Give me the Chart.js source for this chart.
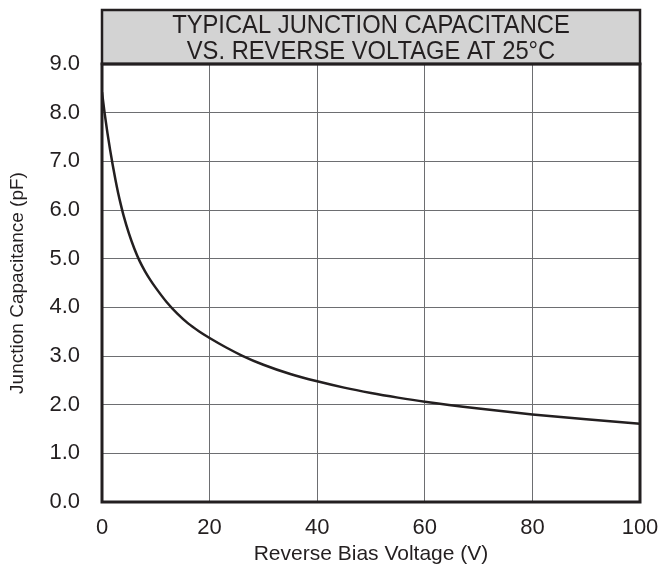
<!DOCTYPE html>
<html>
<head>
<meta charset="utf-8">
<script src="https://cdn.jsdelivr.net/npm/chart.js@4.4.0/dist/chart.umd.min.js"></script>
<style>
  html, body { margin: 0; padding: 0; background: #fff; }
  #wrap { width: 663px; height: 569px; }
</style>
</head>
<body>
<div id="wrap"><canvas id="capChart" width="663" height="569"></canvas></div>
<script>
// data
var voltage = [0, 0.5, 1, 1.5, 2, 2.5, 3, 3.5, 4, 5, 6, 7, 8, 9, 10, 12, 14, 16, 18, 20, 23, 26, 30, 35, 40, 45, 50, 55, 60, 70, 80, 90, 100];
var capacitance = [8.42, 7.98, 7.59, 7.24, 6.92, 6.62, 6.35, 6.11, 5.89, 5.52, 5.21, 4.95, 4.74, 4.56, 4.40, 4.11, 3.87, 3.67, 3.51, 3.37, 3.18, 3.01, 2.82, 2.63, 2.48, 2.35, 2.24, 2.145, 2.06, 1.92, 1.80, 1.70, 1.61];
var titleLines = ['TYPICAL JUNCTION CAPACITANCE', 'VS. REVERSE VOLTAGE AT 25°C'];
var xTitle = 'Reverse Bias Voltage (V)';
var yTitle = 'Junction Capacitance (pF)';

var points = voltage.map(function (v, i) {
    return { x: v, y: capacitance[i] };
});

// kotak judul abu-abu + bingkai area plot
var frameBox = {
    id: 'frameBox',
    afterDraw: function (chart) {
        var ctx = chart.ctx;
        var a = chart.chartArea;
        ctx.save();
        // kotak judul
        ctx.fillStyle = '#d3d3d3';
        ctx.fillRect(a.left, 10, a.right - a.left, a.top - 10);
        ctx.strokeStyle = '#231f20';
        ctx.lineWidth = 2.5;
        ctx.strokeRect(a.left, 10, a.right - a.left, a.top - 10);
        // teks judul
        ctx.fillStyle = '#231f20';
        ctx.font = '25px "Liberation Sans", Arial, sans-serif';
        ctx.textAlign = 'center';
        ctx.textBaseline = 'alphabetic';
        var cx = (a.left + a.right) / 2;
        ctx.translate(cx, 0);
        ctx.scale(0.95, 1);
        ctx.fillText(titleLines[0], 0, 32.5);
        ctx.fillText(titleLines[1], 0, 59);
        ctx.restore();
        // bingkai plot
        ctx.save();
        ctx.strokeStyle = '#231f20';
        ctx.lineWidth = 3;
        ctx.strokeRect(a.left, a.top, a.right - a.left, a.bottom - a.top);
        ctx.restore();
    }
};

var ctx = document.getElementById('capChart').getContext('2d');
var myChart = new Chart(ctx, {
    type: 'line',
    data: {
        datasets: [{
            label: 'C',
            data: points,
            borderColor: '#231f20',
            borderWidth: 2.5,
            pointRadius: 0,
            fill: false,
            cubicInterpolationMode: 'monotone'
        }]
    },
    options: {
        responsive: false,
        animation: false,
        layout: { padding: { top: 64, right: 23, left: 0, bottom: 0 } },
        plugins: {
            legend: { display: false },
            tooltip: { enabled: false }
        },
        scales: {
            x: {
                type: 'linear',
                min: 0,
                max: 100,
                afterFit: function (scale) {
                    scale.height = 67;
                    scale.paddingLeft = 0;
                    scale.paddingRight = 0;
                },
                ticks: {
                    stepSize: 20,
                    padding: 13,
                    color: '#231f20',
                    font: { family: '"Liberation Sans", Arial, sans-serif', size: 22 },
                    maxRotation: 0
                },
                grid: { color: '#6d6e71', lineWidth: 1, drawTicks: false },
                border: { display: false },
                title: {
                    display: true,
                    text: xTitle,
                    color: '#231f20',
                    font: { family: '"Liberation Sans", Arial, sans-serif', size: 21 },
                    padding: { top: 0, bottom: 2 }
                }
            },
            y: {
                min: 0,
                max: 9,
                afterFit: function (scale) {
                    scale.width = 102;
                    scale.paddingTop = 0;
                    scale.paddingBottom = 0;
                },
                ticks: {
                    stepSize: 1,
                    padding: 22,
                    color: '#231f20',
                    font: { family: '"Liberation Sans", Arial, sans-serif', size: 22 },
                    callback: function (v) { return v.toFixed(1); }
                },
                grid: { color: '#6d6e71', lineWidth: 1, drawTicks: false },
                border: { display: false },
                title: {
                    display: true,
                    text: yTitle,
                    color: '#231f20',
                    font: { family: '"Liberation Sans", Arial, sans-serif', size: 19 },
                    padding: { top: 6, bottom: 0 }
                }
            }
        }
    },
    plugins: [frameBox]
});
</script>
</body>
</html>
